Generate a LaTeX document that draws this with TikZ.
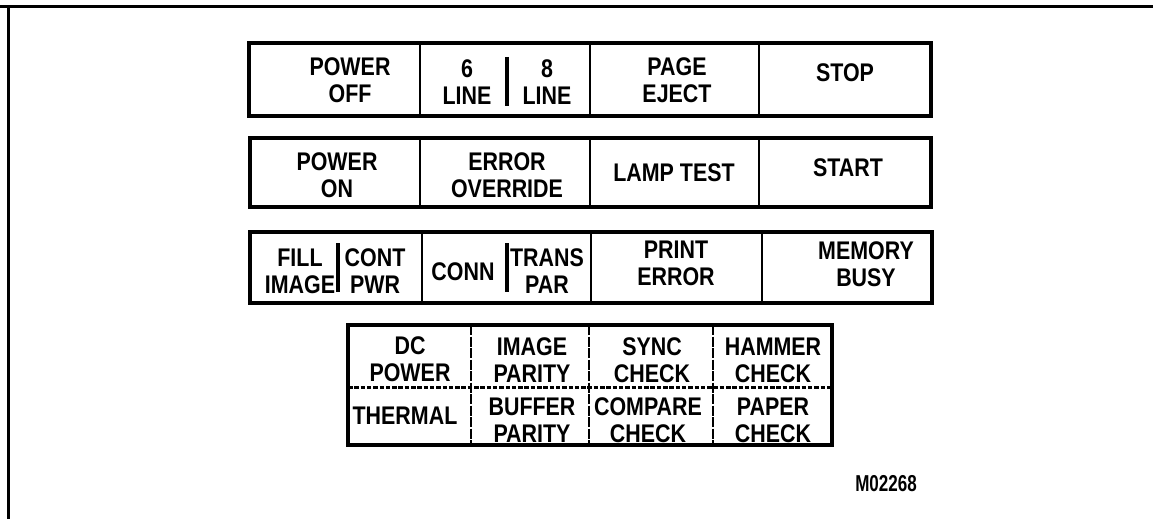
\documentclass[tikz,border=0pt]{standalone}
\usepackage{fontspec}
\setmainfont{Liberation Sans}[FakeStretch=0.84]
\newfontfamily\labfont{Liberation Sans}[FakeStretch=0.74]
\begin{document}
\begin{tikzpicture}[x=1pt,y=-1pt,
  lbl/.style={inner sep=0pt,align=center,font=\bfseries\fontsize{25.5}{27}\selectfont},
  outer/.style={line width=3.4pt,line join=miter},
  divider/.style={line width=2.8pt},
  subdiv/.style={line width=3.6pt},
  dashdiv/.style={line width=2.8pt,dash pattern=on 10pt off 1.5pt},
  dashmid/.style={line width=3pt,dash pattern=on 4.5pt off 1.8pt},
  frame/.style={line width=3pt}]
\useasboundingbox (0,0) rectangle (1153,519);
% frame
\draw[frame] (0,7) -- (1153,7);
\draw[frame] (8.5,7) -- (8.5,519);
% row 1
\draw[outer] (249,43) rectangle (931,116);
\draw[divider] (420,43) -- (420,116) (590,43) -- (590,116) (759,43) -- (759,116);
\draw[subdiv] (507,57) -- (507,106);
\node[lbl] (poff) at (350,80.5) {POWER\\OFF};
\node[lbl] (six) at (467,82) {6\\LINE};
\node[lbl] (eight) at (547,82) {8\\LINE};
\node[lbl] (peject) at (677,80) {PAGE\\EJECT};
\node[lbl] (stop) at (845,72.5) {STOP};
% row 2
\draw[outer] (250,138) rectangle (931,207);
\draw[divider] (420,138) -- (420,207) (590,138) -- (590,207) (759,138) -- (759,207);
\node[lbl] (pon) at (337,175) {POWER\\ON};
\node[lbl] (eovr) at (507,175) {ERROR\\OVERRIDE};
\node[lbl] (lamp) at (674,173) {LAMP TEST};
\node[lbl] (start) at (848,167.5) {START};
% row 3
\draw[outer] (250,232) rectangle (932,303);
\draw[divider] (422,232) -- (422,303) (591,232) -- (591,303) (762,232) -- (762,303);
\draw[subdiv] (338,243) -- (338,292) (507,243) -- (507,292);
\node[lbl] (fill) at (300,271.5) {FILL\\IMAGE};
\node[lbl] (cont) at (375,271) {CONT\\PWR};
\node[lbl] (conn) at (463,272) {CONN};
\node[lbl] (trans) at (547,271) {TRANS\\PAR};
\node[lbl] (perr) at (676,263.5) {PRINT\\ERROR};
\node[lbl] (mem) at (866,264) {MEMORY\\BUSY};
% row 4
\draw[outer] (348,325) rectangle (832,445);
\draw[dashmid] (348,387) -- (832,387);
\draw[dashdiv] (471,325) -- (471,445) (589,325) -- (589,445) (713,325) -- (713,445);
\node[lbl] (dcp) at (410,359.5) {DC\\POWER};
\node[lbl] (therm) at (405,416) {THERMAL};
\node[lbl] (ipar) at (532,360) {IMAGE\\PARITY};
\node[lbl] (bpar) at (532,420.5) {BUFFER\\PARITY};
\node[lbl] (sync) at (652,360) {SYNC\\CHECK};
\node[lbl] (comp) at (648,420.5) {COMPARE\\CHECK};
\node[lbl] (hamm) at (773,360) {HAMMER\\CHECK};
\node[lbl] (paper) at (773,420.5) {PAPER\\CHECK};
% figure id
\node[inner sep=0pt,font=\labfont\bfseries\fontsize{23}{25}\selectfont] (fig) at (886,483.5) {M02268};
\end{tikzpicture}
\end{document}
